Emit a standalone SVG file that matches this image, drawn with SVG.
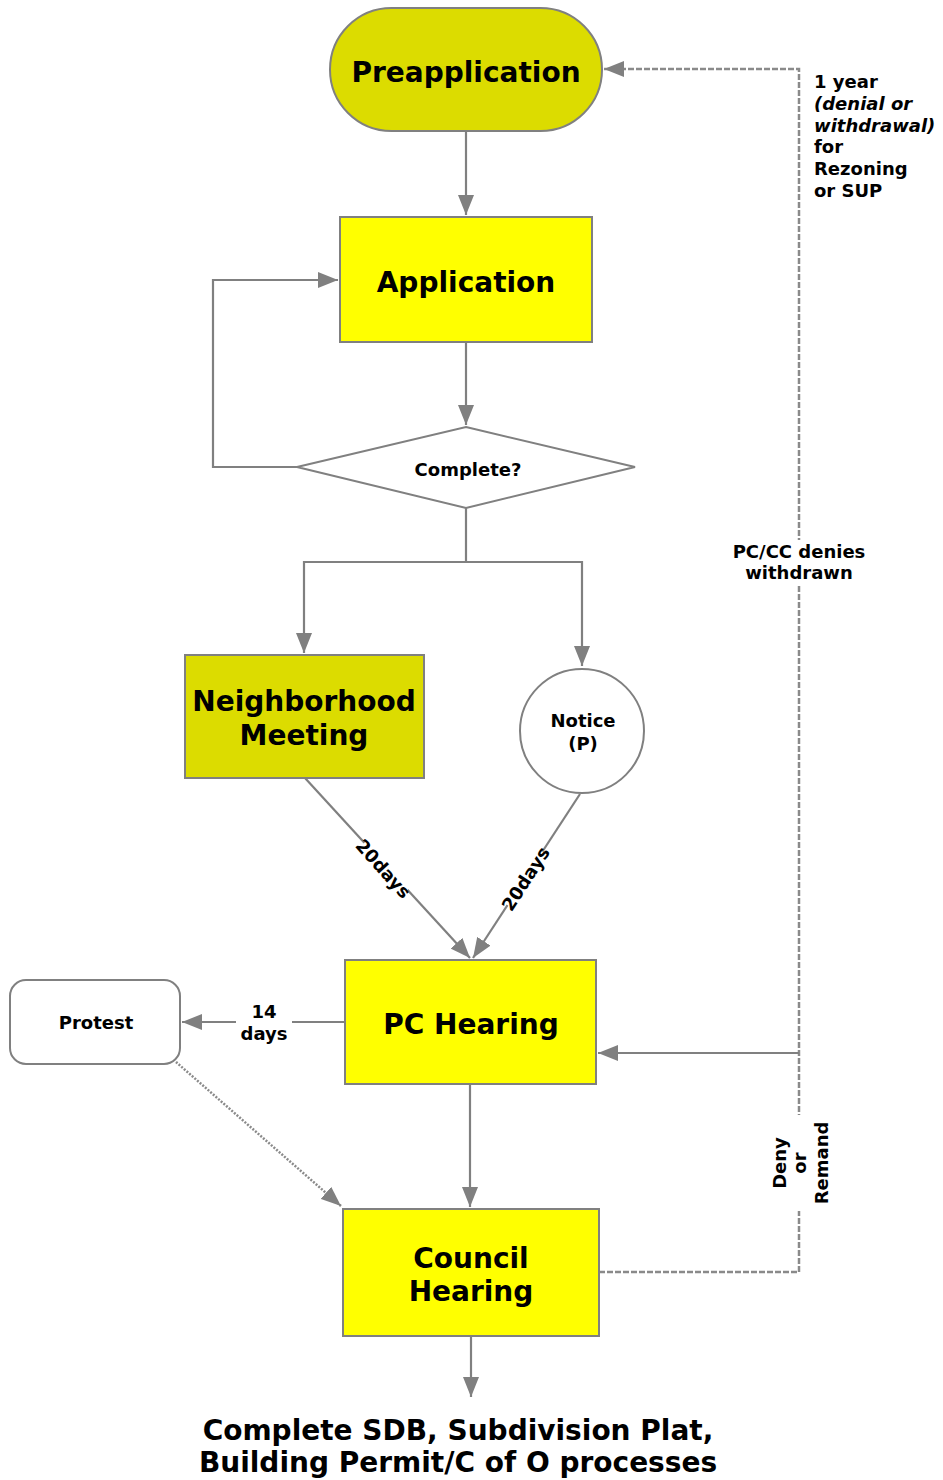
<svg xmlns="http://www.w3.org/2000/svg" width="943" height="1480" viewBox="0 0 943 1480">
<style>
text{font-family:"DejaVu Sans","Liberation Sans",sans-serif;font-weight:bold;fill:#000;text-anchor:middle}
.big{font-size:28px}
.sm{font-size:18px}
.shape{stroke:#808080;stroke-width:2}
.ln{fill:none;stroke:#808080;stroke-width:2.2}
.dash{fill:none;stroke:#8a8a8a;stroke-width:2.5;stroke-dasharray:6 2}
.dot{fill:none;stroke:#8a8a8a;stroke-width:2.5;stroke-dasharray:2 1.5}
.lbl{text-anchor:start}
</style>
<defs>
<marker id="ah" markerWidth="20" markerHeight="16" refX="20" refY="8" orient="auto" markerUnits="userSpaceOnUse">
<path d="M0,0 L20,8 L0,16 z" fill="#808080"/>
</marker>
</defs>
<rect width="943" height="1480" fill="#fff"/>
<g id="connectors">
<path class="ln" d="M466,131 V215" marker-end="url(#ah)"/>
<path class="ln" d="M466,342 V425" marker-end="url(#ah)"/>
<path class="ln" d="M297,467 H213 V280 H338" marker-end="url(#ah)"/>
<path class="ln" d="M466,508 V562 H304 V653" marker-end="url(#ah)"/>
<path class="ln" d="M466,562 H582 V666" marker-end="url(#ah)"/>
<path class="ln" d="M305,778 L470,958" marker-end="url(#ah)"/>
<path class="ln" d="M580,794 L473,958" marker-end="url(#ah)"/>
<path class="ln" d="M345,1022 H182" marker-end="url(#ah)"/>
<path class="ln" d="M470,1084 V1207" marker-end="url(#ah)"/>
<path class="dot" d="M176,1062 L341,1206" marker-end="url(#ah)"/>
<path class="ln" d="M471,1336 V1397" marker-end="url(#ah)"/>
<path class="dash" d="M599,1272 H799 V69 H604" marker-end="url(#ah)"/>
<path class="ln" d="M799,1053 H598" marker-end="url(#ah)"/>
</g>
<g id="preapplication">
<rect class="shape" x="330" y="8" width="272" height="123" rx="61.5" fill="#dcdc00"/>
<text class="big" x="466" y="82">Preapplication</text>
</g>
<g id="application">
<rect class="shape" x="340" y="217" width="252" height="125" fill="#ffff00"/>
<text class="big" x="466" y="292">Application</text>
</g>
<g id="complete">
<polygon class="shape" points="466,427 635,467 466,508 297,467" fill="#fff"/>
<text class="sm" x="468" y="476">Complete?</text>
</g>
<g id="neighborhood">
<rect class="shape" x="185" y="655" width="239" height="123" fill="#dcdc00"/>
<text class="big" x="304" y="711">Neighborhood</text>
<text class="big" x="304" y="745">Meeting</text>
</g>
<g id="notice">
<circle class="shape" cx="582" cy="731" r="62" fill="#fff"/>
<text class="sm" x="583" y="727">Notice</text>
<text class="sm" x="583" y="750">(P)</text>
</g>
<g id="pc-hearing">
<rect class="shape" x="345" y="960" width="251" height="124" fill="#ffff00"/>
<text class="big" x="471" y="1034">PC Hearing</text>
</g>
<g id="protest">
<rect class="shape" x="10" y="980" width="170" height="84" rx="16" fill="#fff"/>
<text class="sm" x="96" y="1029">Protest</text>
</g>
<g id="council-hearing">
<rect class="shape" x="343" y="1209" width="256" height="127" fill="#ffff00"/>
<text class="big" x="471" y="1268">Council</text>
<text class="big" x="471" y="1301">Hearing</text>
</g>
<g id="final">
<text class="big" x="458" y="1440">Complete SDB, Subdivision Plat,</text>
<text class="big" x="458" y="1472">Building Permit/C of O processes</text>
</g>
<g id="labels">
<g transform="translate(383,869) rotate(48)">
<rect x="-32" y="-13" width="64" height="25" fill="#fff"/>
<text class="sm" x="0" y="6">20days</text>
</g>
<g transform="translate(526,879) rotate(-57)">
<rect x="-32" y="-13" width="64" height="25" fill="#fff"/>
<text class="sm" x="0" y="6">20days</text>
</g>
<rect x="236" y="1000" width="56" height="46" fill="#fff"/>
<text class="sm" x="264" y="1018">14</text>
<text class="sm" x="264" y="1040">days</text>
<rect x="724" y="540" width="150" height="44" fill="#fff"/>
<text class="sm" x="799" y="558">PC/CC denies</text>
<text class="sm" x="799" y="579">withdrawn</text>
<g transform="translate(800,1163) rotate(-90)">
<rect x="-48" y="-33" width="96" height="68" fill="#fff"/>
<text class="sm" x="0" y="-14">Deny</text>
<text class="sm" x="0" y="6">or</text>
<text class="sm" x="0" y="28">Remand</text>
</g>
<text class="sm lbl" x="814" y="88">1 year</text>
<text class="sm lbl" x="814" y="110" font-style="italic">(denial or</text>
<text class="sm lbl" x="814" y="132" font-style="italic">withdrawal)</text>
<text class="sm lbl" x="814" y="153">for</text>
<text class="sm lbl" x="814" y="175">Rezoning</text>
<text class="sm lbl" x="814" y="197">or SUP</text>
</g>
</svg>
